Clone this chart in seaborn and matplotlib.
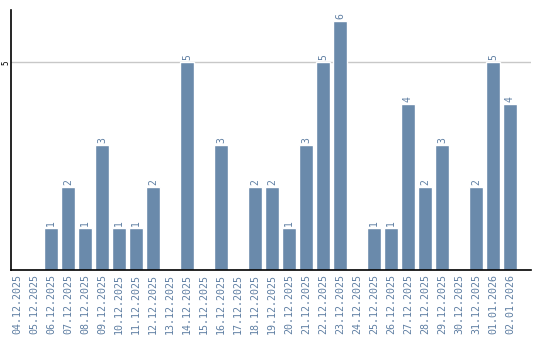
import matplotlib
matplotlib.use("Agg")
import matplotlib.pyplot as plt
import seaborn as sns
import pandas as pd

dates = ["04.12.2025", "05.12.2025", "06.12.2025", "07.12.2025", "08.12.2025",
         "09.12.2025", "10.12.2025", "11.12.2025", "12.12.2025", "13.12.2025",
         "14.12.2025", "15.12.2025", "16.12.2025", "17.12.2025", "18.12.2025",
         "19.12.2025", "20.12.2025", "21.12.2025", "22.12.2025", "23.12.2025",
         "24.12.2025", "25.12.2025", "26.12.2025", "27.12.2025", "28.12.2025",
         "29.12.2025", "30.12.2025", "31.12.2025", "01.01.2026", "02.01.2026"]
values = [0, 0, 1, 2, 1, 3, 1, 1, 2, 0,
          5, 0, 3, 0, 2, 2, 1, 3, 5, 6,
          0, 1, 1, 4, 2, 3, 0, 2, 5, 4]
yticks = [5]

sns.set_theme(style="white")
plt.rcParams['font.family'] = ['DejaVu Sans Mono', 'DejaVu Sans']

df = pd.DataFrame({"date": dates, "value": values})
bar_color = "#6a8aab"
text_color = "#5f7fa3"

fig = plt.figure(figsize=(5.4, 3.4), dpi=100)
ax = fig.add_axes([11/540, 1 - 270/340, 520/540, 260/340])
sns.barplot(data=df, x="date", y="value", color=bar_color, saturation=1,
            width=0.82, ax=ax, zorder=2)

for i, v in enumerate(values):
    if v > 0:
        ax.text(i, v + 0.05, str(v), rotation=90, ha="center", va="bottom",
                fontsize=7, color=text_color)

ax.set_xlim(-0.35, 30.24)
ax.set_ylim(0, 6.26)
ax.set_yticks(yticks)
ax.set_yticklabels([str(t) for t in yticks], rotation=90, va="center",
                   fontsize=5.5, color="black")
ax.yaxis.grid(True, color="#c8c8c8", linewidth=1, zorder=0)
ax.set_axisbelow(True)
ax.tick_params(axis="y", length=0, pad=0.5)
ax.tick_params(axis="x", length=0, pad=3)
ax.set_xticks(range(len(dates)))
ax.set_xticklabels(dates, rotation=90, fontsize=7.2, color=text_color)
ax.set_xlabel("")
ax.set_ylabel("")
for s in ["top", "right"]:
    ax.spines[s].set_visible(False)
for s in ["left", "bottom"]:
    ax.spines[s].set_color("black")
    ax.spines[s].set_linewidth(1.2)

fig.savefig("out.png", dpi=100)
